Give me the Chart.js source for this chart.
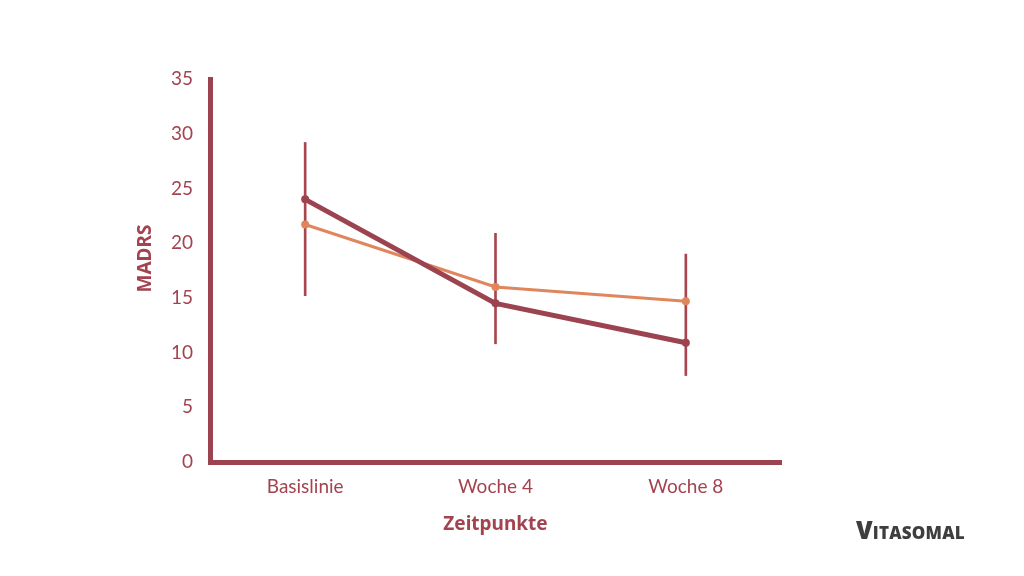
<!DOCTYPE html>
<html>
<head>
<meta charset="utf-8">
<script src="https://cdn.jsdelivr.net/npm/chart.js@4.4.1/dist/chart.umd.min.js"></script>
<style>
  html, body { margin: 0; padding: 0; background: #fff; }
  #wrap { position: relative; width: 1024px; height: 576px; font-family: Lato, sans-serif; }
  .legend { position: absolute; left: 754px; color: #a3434f; font-size: 19px; }
  .legend .item { position: absolute; left: 0; white-space: nowrap; height: 20px; }
  .legend .sw { position: absolute; left: 0; top: 9px; width: 42px; height: 4px; }
  .legend .dot { position: absolute; left: 16px; top: 6px; width: 10px; height: 10px; border-radius: 50%; }
  .legend .lbl { position: absolute; left: 65px; top: -2px; }
  #logo { position: absolute; left: 856px; top: 513px; color: #3e3e3e; font-family: "Open Sans", sans-serif; font-weight: 800; font-size: 17px; letter-spacing: 0.2px; }
  #logo .big { font-size: 24px; }
</style>
</head>
<body>
<div id="wrap">
  <canvas id="madrsChart" width="1024" height="576"></canvas>
  <div class="legend" id="legend"></div>
  <div id="logo"><span class="big">V</span>ITASOMAL</div>
</div>
<script>
const labels = ["Basislinie", "Woche 4", "Woche 8"];
const coq10 = [24.0, 14.5, 10.9];
const placebo = [21.7, 16.0, 14.7];
const errLow = [15.2, 10.8, 7.9];
const errHigh = [29.2, 20.9, 19.0];

const dark = "#9c4350";
const orange = "#e0865d";
const textColor = "#a3434f";

const legendItems = [
  { label: "CoQ10", color: dark, top: 222 },
  { label: "Placebo", color: orange, top: 255 },
];
const legendEl = document.getElementById("legend");
legendItems.forEach((it) => {
  const d = document.createElement("div");
  d.className = "item";
  d.style.top = it.top + "px";
  d.innerHTML = `<div class="sw" style="background:${it.color}"></div><div class="dot" style="background:${it.color}"></div><div class="lbl">${it.label}</div>`;
  legendEl.appendChild(d);
});

const ctx = document.getElementById("madrsChart");
new Chart(ctx, {
  type: "line",
  data: {
    labels,
    datasets: [
      {
        type: "bar",
        label: "Fehler",
        data: errLow.map((lo, i) => [lo, errHigh[i]]),
        backgroundColor: "#a8464f",
        barThickness: 2,
        order: 3,
      },
      {
        label: "CoQ10",
        data: coq10,
        borderColor: dark,
        backgroundColor: dark,
        borderWidth: 5,
        pointRadius: 4,
        pointBorderWidth: 0,
        pointHoverRadius: 4,
        tension: 0,
        order: 1,
      },
      {
        label: "Placebo",
        data: placebo,
        borderColor: orange,
        backgroundColor: orange,
        borderWidth: 3,
        pointRadius: 4,
        pointBorderWidth: 0,
        pointHoverRadius: 4,
        tension: 0,
        order: 2,
      },
    ],
  },
  options: {
    responsive: false,
    animation: false,
    layout: { padding: { top: 79, right: 243, bottom: 0, left: 0 } },
    plugins: { legend: { display: false }, tooltip: { enabled: false } },
    scales: {
      x: {
        offset: true,
        grid: { display: false, drawTicks: false },
        border: { display: true, color: dark, width: 5 },
        ticks: { color: textColor, font: { family: "Lato", size: 19 }, padding: 13 },
        title: {
          display: true,
          text: "Zeitpunkte",
          color: textColor,
          font: { family: "Noto Sans", size: 19, weight: "bold" },
          padding: { top: 0, bottom: 40 },
        },
        afterFit: (s) => { s.height = 114; },
      },
      y: {
        min: 0,
        max: 35,
        grid: { display: false, drawTicks: false },
        border: { display: true, color: dark, width: 5 },
        ticks: { stepSize: 5, color: textColor, font: { family: "Lato", size: 19 }, padding: 17 },
        title: {
          display: true,
          text: "\u2003 MADRS",
          color: textColor,
          font: { family: "Noto Sans", size: 19, weight: "bold" },
          padding: { top: 134, bottom: 0 },
        },
        afterFit: (s) => { s.width = 210; },
      },
    },
  },
});
</script>
</body>
</html>
